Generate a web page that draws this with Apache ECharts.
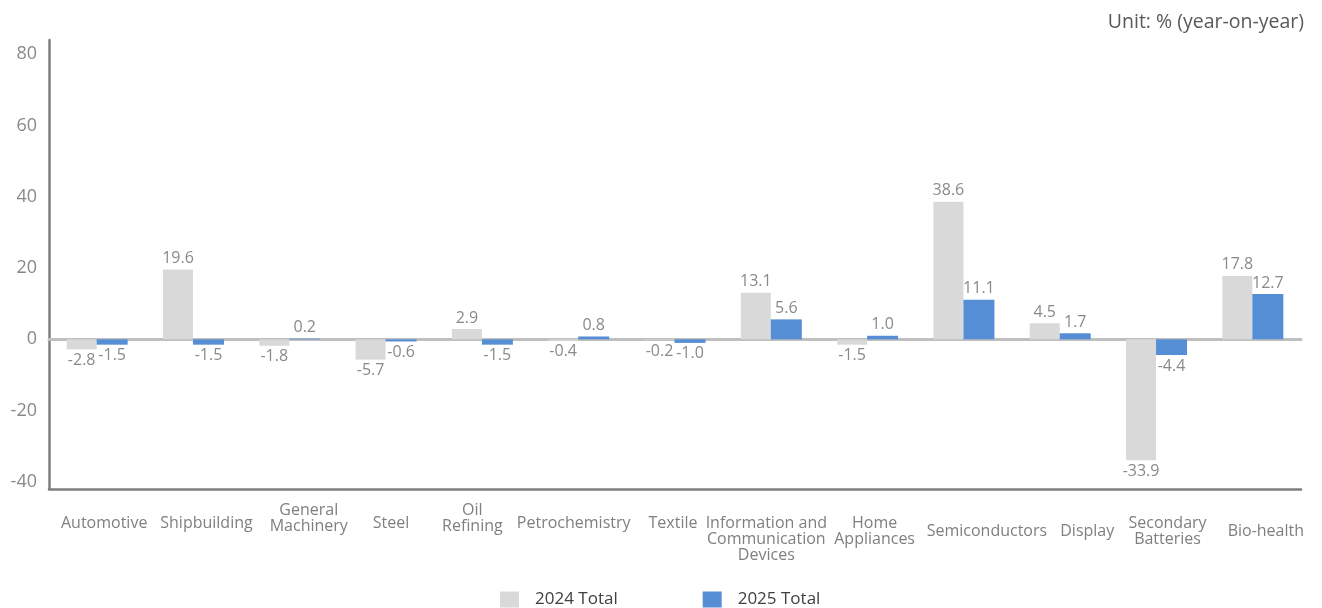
<!DOCTYPE html>
<html>
<head>
<meta charset="utf-8">
<script src="https://cdn.jsdelivr.net/npm/echarts@6/dist/echarts.min.js"></script>
<style>
html,body{margin:0;padding:0;background:#fff;}
#chart{width:1322px;height:608px;}
</style>
</head>
<body>
<div id="chart"></div>
<script>
const categories = ['Automotive','Shipbuilding','General\nMachinery','Steel','Oil\nRefining','Petrochemistry','Textile','Information and\nCommunication\nDevices','Home\nAppliances','Semiconductors','Display','Secondary\nBatteries','Bio-health'];
const total2024 = [-2.8, 19.6, -1.8, -5.7, 2.9, -0.4, -0.2, 13.1, -1.5, 38.6, 4.5, -33.9, 17.8];
const total2025 = [-1.5, -1.5, 0.2, -0.6, -1.5, 0.8, -1.0, 5.6, 1.0, 11.1, 1.7, -4.4, 12.7];
const seriesNames = ['2024 Total', '2025 Total'];
const yTickLabels = [-40, -20, 0, 20, 40, 60, 80];

// layout-only: offsets (px) of each category label, as placed in the reference
const catLabelDown = [13, 13, 0, 13, 0, 13, 13, 13, 13, 21, 21, 13, 21];
const catLabelRight = [7, 13, 19, 5, -10, -5, -2, -5, 7, 23, 27, 11, 13];

const FONT = '"Open Sans", "DejaVu Sans", sans-serif';
const labelColor = '#8a8a8a';

function toData(arr) {
  return arr.map(v => ({
    value: v,
    label: { position: v < 0 ? 'bottom' : 'top' }
  }));
}

const xCats = categories.map((c, i) => {
  const s = catLabelRight[i];
  return {
    value: c,
    textStyle: { padding: [catLabelDown[i], s < 0 ? -2 * s : 0, 0, s > 0 ? 2 * s : 0] }
  };
});

const chart = echarts.init(document.getElementById('chart'), null, {renderer: 'canvas'});
chart.setOption({
  animation: false,
  backgroundColor: '#ffffff',
  textStyle: { fontFamily: FONT },
  title: {
    text: 'Unit: % (year-on-year)',
    right: 13, top: 7,
    textStyle: { fontFamily: FONT, fontSize: 19.5, fontWeight: 'normal', color: '#595959' }
  },
  legend: {
    data: seriesNames,
    left: 500, top: 591, padding: 0,
    icon: 'rect',
    itemWidth: 19, itemHeight: 16, itemGap: 85,
    textStyle: { fontFamily: FONT, fontSize: 17, color: '#404040', padding: [0, 0, 0, 11] }
  },
  grid: { left: 49, right: 21, top: 40, bottom: 119, containLabel: false, outerBoundsMode: 'none' },
  xAxis: [
    {
      type: 'category',
      data: xCats,
      position: 'bottom',
      axisLine: { onZero: false, lineStyle: { color: '#7f7f7f', width: 2.5 } },
      axisTick: { show: false },
      axisLabel: {
        interval: 0, hideOverlap: false,
        color: '#7f7f7f', fontFamily: FONT, fontSize: 16, lineHeight: 16,
        margin: 13, verticalAlign: 'top'
      }
    },
    {
      type: 'category',
      data: categories,
      position: 'bottom',
      axisLine: { onZero: true, lineStyle: { color: '#bfbfbf', width: 3 } },
      axisTick: { show: false },
      axisLabel: { show: false },
      splitLine: { show: false }
    }
  ],
  yAxis: {
    type: 'value',
    min: -42, max: 84, interval: 2,
    axisLine: { show: true, lineStyle: { color: '#7f7f7f', width: 2.5 } },
    axisTick: { show: false },
    splitLine: { show: false },
    axisLabel: {
      color: '#898989', fontFamily: FONT, fontSize: 18, margin: 12,
      formatter: v => (yTickLabels.indexOf(v) >= 0 ? String(v) : '')
    }
  },
  series: [
    {
      name: seriesNames[0], type: 'bar', xAxisIndex: 0,
      data: toData(total2024),
      barWidth: 30, barGap: '0%',
      itemStyle: { color: '#d9d9d9' },
      label: { show: true, color: labelColor, fontFamily: FONT, fontSize: 16, distance: 3,
               formatter: p => p.value.toFixed(1) },
      z: 3
    },
    {
      name: seriesNames[1], type: 'bar', xAxisIndex: 0,
      data: toData(total2025),
      barWidth: 31, barGap: '0%',
      itemStyle: { color: '#558ed5' },
      label: { show: true, color: labelColor, fontFamily: FONT, fontSize: 16, distance: 3,
               formatter: p => p.value.toFixed(1) },
      z: 3
    }
  ]
});
</script>
</body>
</html>
